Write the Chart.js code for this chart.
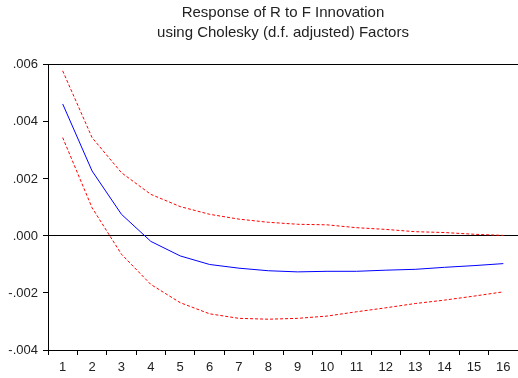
<!DOCTYPE html>
<html>
<head>
<meta charset="utf-8">
<script src="https://cdn.jsdelivr.net/npm/chart.js@4"></script>
<style>
  html, body { margin: 0; padding: 0; background: #fff; overflow: hidden; }
  #wrap { width: 518px; height: 378px; }
</style>
</head>
<body>
<div id="wrap"><canvas id="irfChart"></canvas></div>
<script>
const periods = ['1','2','3','4','5','6','7','8','9','10','11','12','13','14','15','16'];
const response = [0.00463, 0.00228, 0.00076, -0.00019, -0.00070, -0.00100, -0.00113, -0.00122, -0.00126, -0.00124, -0.00124, -0.00120, -0.00117, -0.00110, -0.00104, -0.00097];
const upperBand = [0.00579, 0.00345, 0.00222, 0.00146, 0.00103, 0.00076, 0.00059, 0.00048, 0.00041, 0.00039, 0.00029, 0.00023, 0.00015, 0.00012, 0.00006, 0.00002];
const lowerBand = [0.00345, 0.00099, -0.00064, -0.00170, -0.00234, -0.00273, -0.00289, -0.00292, -0.00289, -0.00281, -0.00266, -0.00252, -0.00237, -0.00225, -0.00211, -0.00196];
const yTickValues = [-0.004, -0.002, 0, 0.002, 0.004, 0.006];
const yTickLabels = ['-.004', '-.002', '.000', '.002', '.004', '.006'];
const titleLines = ['Response of R to F Innovation', 'using Cholesky (d.f. adjusted) Factors'];

const font = { family: '"Liberation Sans", Arial, sans-serif', size: 13 };

const ctx = document.getElementById('irfChart').getContext('2d');
new Chart(ctx, {
    type: 'line',
    data: {
        labels: periods,
        datasets: [
            {
                label: 'Upper',
                data: upperBand,
                borderColor: '#ff0000',
                borderWidth: 1,
                borderDash: [3, 2],
                pointRadius: 0,
                tension: 0,
            },
            {
                label: 'Response',
                data: response,
                borderColor: '#0000ff',
                borderWidth: 1,
                pointRadius: 0,
                tension: 0,
            },
            {
                label: 'Lower',
                data: lowerBand,
                borderColor: '#ff0000',
                borderWidth: 1,
                borderDash: [3, 2],
                pointRadius: 0,
                tension: 0,
            },
        ],
    },
    options: {
        responsive: true,
        maintainAspectRatio: false,
        animation: false,
        layout: { padding: 0 },
        plugins: {
            legend: { display: false },
            tooltip: { enabled: false },
            title: {
                display: true,
                text: titleLines,
                fullSize: false,
                color: '#222',
                font: { family: font.family, size: 15, weight: 'normal', lineHeight: 1.33 },
                padding: { top: 3, bottom: 22 },
            },
        },
        scales: {
            x: {
                offset: true,
                grid: { offset: true, drawOnChartArea: false, tickLength: 5, tickColor: '#000' },
                border: { display: true, color: '#000', width: 1 },
                ticks: { color: '#222', font: font, padding: 5, maxRotation: 0, autoSkip: false },
                afterFit: scale => { scale.height = 28; },
            },
            x2: {
                type: 'category',
                position: 'top',
                labels: periods,
                grid: { display: false, drawTicks: false },
                border: { display: true, color: '#000', width: 1 },
                ticks: { display: false },
                afterFit: scale => { scale.height = 0; },
            },
            y: {
                min: -0.004,
                max: 0.006,
                afterBuildTicks: scale => {
                    scale.ticks = yTickValues.map(v => ({ value: v }));
                },
                grid: {
                    color: c => (c.tick && c.tick.value === 0 ? '#000' : 'rgba(0,0,0,0)'),
                    tickColor: '#000',
                    tickLength: 5,
                },
                border: { display: true, color: '#000', width: 1 },
                ticks: {
                    color: '#222',
                    font: font,
                    padding: 5,
                    callback: value => yTickLabels[yTickValues.indexOf(value)],
                },
                afterFit: scale => { scale.width = 48; },
            },
        },
    },
});
</script>
</body>
</html>
